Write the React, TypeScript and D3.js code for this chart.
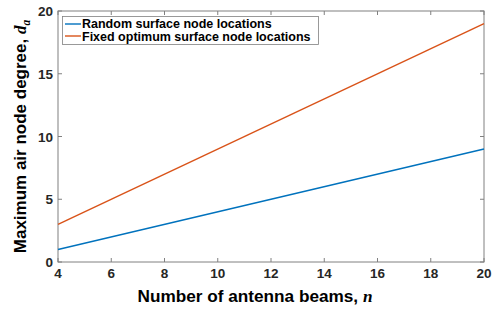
import React from "react";
import * as d3 from "d3";

const beams = [4, 20];
const randomDeg = [1, 9];
const fixedDeg = [3, 19];
const xTicks = [4, 6, 8, 10, 12, 14, 16, 18, 20];
const yTicks = [0, 5, 10, 15, 20];
const seriesNames = ["Random surface node locations", "Fixed optimum surface node locations"];
const seriesColors = ["#0072BD", "#D95319"];

export default function App() {
  const W = 493, H = 310;
  const L = 58, R = 484, T = 11, B = 262;
  const x = d3.scaleLinear().domain([4, 20]).range([L, R]);
  const y = d3.scaleLinear().domain([0, 20]).range([B, T]);
  const line = d3.line<[number, number]>().x(d => x(d[0])).y(d => y(d[1]));
  const series = [randomDeg, fixedDeg].map(vals => beams.map((b, i) => [b, vals[i]] as [number, number]));
  const font = "Helvetica, Arial, 'Liberation Sans', sans-serif";
  const serif = "'Liberation Serif', 'DejaVu Serif', serif";
  const axisColor = "#808080";
  const tl = 4;
  return (
    <svg width={W} height={H} style={{ position: "absolute", left: 0, top: 0 }} fontFamily={font}>
      <rect x={0} y={0} width={W} height={H} fill="#fff" />
      <rect x={L} y={T} width={R - L} height={B - T} fill="#fff" stroke={axisColor} strokeWidth={1} />
      {xTicks.map(t => (
        <g key={"x" + t}>
          <line x1={x(t)} x2={x(t)} y1={B} y2={B - tl} stroke={axisColor} />
          <line x1={x(t)} x2={x(t)} y1={T} y2={T + tl} stroke={axisColor} />
          <text x={x(t)} y={B + 16} textAnchor="middle" fontSize={13.5} fontWeight="bold" fill="#262626">{t}</text>
        </g>
      ))}
      {yTicks.map(t => (
        <g key={"y" + t}>
          <line x1={L} x2={L + tl} y1={y(t)} y2={y(t)} stroke={axisColor} />
          <line x1={R} x2={R - tl} y1={y(t)} y2={y(t)} stroke={axisColor} />
          <text x={L - 5} y={y(t) + 5} textAnchor="end" fontSize={13.5} fontWeight="bold" fill="#262626">{t}</text>
        </g>
      ))}
      {series.map((s, i) => (
        <path key={i} d={line(s) || ""} fill="none" stroke={seriesColors[i]} strokeWidth={1.4} />
      ))}
      <g>
        <rect x={62.5} y={16.5} width={256} height={28} fill="#fff" stroke={axisColor} strokeWidth={0.8} />
        {seriesNames.map((n, i) => (
          <g key={n}>
            <line x1={65} x2={81} y1={24 + i * 12} y2={24 + i * 12} stroke={seriesColors[i]} strokeWidth={1.4} />
            <text x={82} y={28 + i * 12.5} fontSize={12.5} fontWeight="bold" fill="#000">{n}</text>
          </g>
        ))}
      </g>
      <text x={255} y={302} textAnchor="middle" fontSize={17.2} fontWeight="bold" fill="#000">
        Number of antenna beams, <tspan fontFamily={serif} fontStyle="italic">n</tspan>
      </text>
      <text transform={`translate(26,${(T + B) / 2}) rotate(-90)`} textAnchor="middle" fontSize={17} fontWeight="bold" fill="#000">
        Maximum air node degree, <tspan fontFamily={serif} fontStyle="italic">d</tspan><tspan fontFamily={serif} fontStyle="italic" fontSize={11.5} dy={4}>a</tspan>
      </text>
    </svg>
  );
}
